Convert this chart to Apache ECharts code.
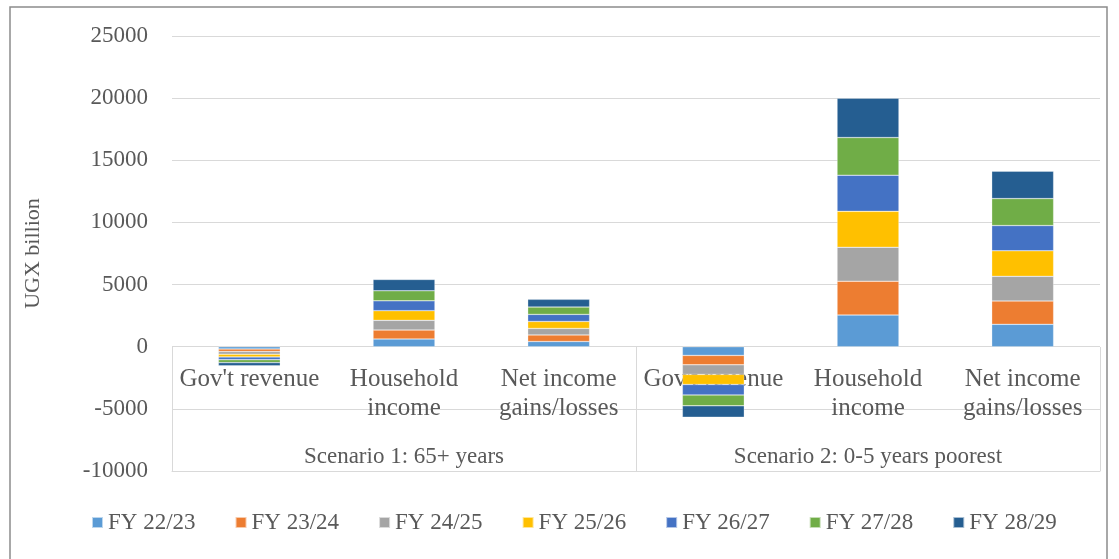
<!DOCTYPE html>
<html>
<head>
<meta charset="utf-8">
<script src="https://cdn.jsdelivr.net/npm/echarts@6/dist/echarts.min.js"></script>
<style>
  html, body { margin: 0; padding: 0; background: #fff; }
  #main { width: 1119px; height: 559px; }
</style>
</head>
<body>
<div id="main"></div>
<script>
// categories and scenario groups
var categories = ["Gov't revenue", 'Household\nincome', 'Net income\ngains/losses',
                  "Gov't revenue", 'Household\nincome', 'Net income\ngains/losses'];
var scenarios = ['Scenario 1: 65+ years', 'Scenario 2: 0-5 years poorest'];
var years = ['FY 22/23', 'FY 23/24', 'FY 24/25', 'FY 25/26', 'FY 26/27', 'FY 27/28', 'FY 28/29'];

// UGX billion, order: S1 gov, S1 household, S1 net, S2 gov, S2 household, S2 net
var fy2223 = [-190, 620, 420, -700, 2550, 1800];
var fy2324 = [-200, 720, 530, -760, 2720, 1880];
var fy2425 = [-210, 780, 520, -770, 2730, 1980];
var fy2526 = [-220, 780, 560, -810, 2890, 2060];
var fy2627 = [-225, 790, 570, -850, 2910, 2030];
var fy2728 = [-235, 810, 590, -870, 3030, 2170];
var fy2829 = [-250, 910, 620, -910, 3160, 2200];

var yearValues = [fy2223, fy2324, fy2425, fy2526, fy2627, fy2728, fy2829];
var colors = ['#5B9BD5', '#ED7D31', '#A5A5A5', '#FFC000', '#4472C4', '#70AD47', '#255E91'];

var font = '"Liberation Serif", serif';
var textColor = '#595959';

var myChart = echarts.init(document.getElementById('main'));

var series = years.map(function (name, i) {
    return {
        name: name,
        type: 'bar',
        stack: 'total',
        barWidth: '40%',
        data: yearValues[i],
        itemStyle: { color: colors[i], borderColor: 'rgba(255,255,255,0.6)', borderWidth: 0.5 }
    };
});

var option = {
    backgroundColor: '#fff',
    color: colors,
    animation: false,
    grid: { left: 172, right: 19, top: 36, bottom: 88 },
    legend: {
        bottom: 20,
        left: 86,
        itemWidth: 11,
        itemHeight: 11,
        itemGap: 39,
        icon: 'rect',
        textStyle: { fontFamily: font, fontSize: 23, color: textColor },
        data: years
    },
    xAxis: [
        {
            // sub-categories, labels pulled up to sit under the zero line
            type: 'category',
            position: 'bottom',
            data: categories,
            axisLine: { show: false, onZero: false },
            axisTick: { show: false },
            axisLabel: {
                interval: 0,
                margin: -106,
                fontFamily: font,
                fontSize: 25,
                lineHeight: 29,
                color: textColor
            }
        },
        {
            // scenario groups with divider ticks
            type: 'category',
            position: 'bottom',
            data: scenarios,
            axisLine: { onZero: false, lineStyle: { color: '#d9d9d9', width: 1 } },
            axisTick: {
                show: true,
                inside: true,
                length: 124,
                interval: 0,
                lineStyle: { color: '#d9d9d9', width: 1 }
            },
            axisLabel: {
                interval: 0,
                margin: -26,
                fontFamily: font,
                fontSize: 23,
                color: textColor
            }
        }
    ],
    yAxis: {
        type: 'value',
        min: -10000,
        max: 25000,
        interval: 5000,
        name: 'UGX billion',
        nameLocation: 'middle',
        nameGap: 128,
        nameTextStyle: { fontFamily: font, fontSize: 22, color: textColor },
        axisLine: { show: false },
        axisTick: { show: false },
        axisLabel: {
            margin: 24,
            fontFamily: font,
            fontSize: 23,
            color: textColor,
            formatter: function (v) { return String(v); }
        },
        splitLine: { lineStyle: { color: '#d9d9d9', width: 1 } }
    },
    graphic: [
        {
            type: 'rect',
            shape: { x: 10, y: 7, width: 1097, height: 560 },
            style: { fill: 'none', stroke: '#8c8c8c', lineWidth: 1.5 },
            z: -1
        }
    ],
    series: series
};

myChart.setOption(option);
</script>
</body>
</html>
